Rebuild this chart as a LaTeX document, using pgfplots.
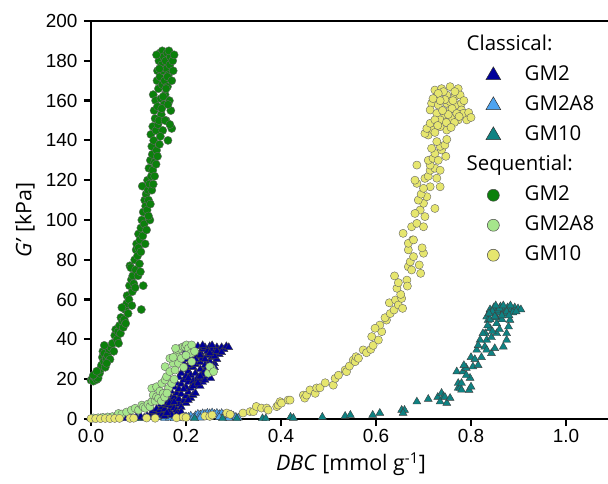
\documentclass[border=0pt]{standalone}
\usepackage{pgfplots}
\pgfplotsset{compat=1.18}
\usepackage{fontspec}
\setmainfont{Liberation Sans}
\newfontfamily\osans{Open Sans}
\definecolor{cnavy}{HTML}{00009A}
\definecolor{clblue}{HTML}{4DA3F0}
\definecolor{cteal}{HTML}{0E8282}
\definecolor{cdgreen}{HTML}{0B800B}
\definecolor{clgreen}{HTML}{A6E68C}
\definecolor{cyellow}{HTML}{E6E66E}
\begin{document}
\begin{tikzpicture}
\useasboundingbox (-91bp,-65bp) rectangle (517bp,419bp);
\begin{axis}[
  at={(0,0)}, anchor=south west,
  scale only axis, width=520bp, height=398bp,
  xmin=0, xmax=1.0947, ymin=0, ymax=200,
  clip=false,
  axis line style={line width=2.4bp},
  tick style={line width=2.2bp, black},
  major tick length=7bp,
  tick align=outside,
  xtick pos=lower, ytick pos=left,
  xtick={0,0.2,0.4,0.6,0.8,1.0},
  ytick={0,20,40,60,80,100,120,140,160,180,200},
  xticklabel style={/pgf/number format/fixed, /pgf/number format/fixed zerofill, /pgf/number format/precision=1},
  yticklabel style={xshift=-3bp},
  tick label style={font=\fontsize{19}{21}\selectfont},
  /pgf/number format/assume math mode=true,
  every axis y label/.style={at={(axis description cs:-0.127,0.5)}, rotate=90, anchor=center},
  every axis x label/.style={at={(axis description cs:0.5,-0.113)}, anchor=center},
  label style={font=\osans\fontsize{21.5}{24}\selectfont},
  xlabel={\textit{DBC} [mmol g\textsuperscript{-1}]},
  ylabel={\textit{G’} [kPa]},
  legend style={at={(axis description cs:0.757,0.9695)}, anchor=north west, draw=none, fill=none, inner sep=0pt, row sep=6bp, column sep=22bp, font=\osans\fontsize{20.5}{23}\selectfont, nodes={text height=15bp, text depth=5bp}},
  legend cell align=left,
  tri/.style={only marks, mark=triangle*, mark size=4.6bp, mark options={fill=#1, draw=black!75, line width=0.4bp}},
  cir/.style={only marks, mark=*, mark size=4.1bp, mark options={fill=#1, draw=black!60, line width=0.4bp}},
  ltri/.style={only marks, mark=triangle*, mark size=8.5bp, mark options={fill=#1, draw=black!80, line width=0.5bp}},
  lcir/.style={only marks, mark=*, mark size=6bp, mark options={fill=#1, draw=black!70, line width=0.5bp}},
]
% legend
\addlegendimage{empty legend}\addlegendentry{\hspace*{-58bp}Classical:}
\addlegendimage{ltri=cnavy}\addlegendentry{GM2}
\addlegendimage{ltri=clblue}\addlegendentry{GM2A8}
\addlegendimage{ltri=cteal}\addlegendentry{GM10}
\addlegendimage{empty legend}\addlegendentry{\hspace*{-58bp}Sequential:}
\addlegendimage{lcir=cdgreen}\addlegendentry{GM2}
\addlegendimage{lcir=clgreen}\addlegendentry{GM2A8}
\addlegendimage{lcir=cyellow}\addlegendentry{GM10}

% Classical GM2A8
\addplot[tri=clblue, forget plot] coordinates {
(0.0,0.3)(0.02,0.3)(0.04,0.5)(0.06,0.5)(0.08,0.6)(0.1,0.7)(0.12,0.8)(0.14,0.9)(0.16,1.0)(0.17,1.2)(0.18,1.0)(0.19,1.3)(0.2,1.2)(0.21,1.6)(0.22,1.8)(0.225,2.5)(0.23,2.2)(0.235,2.8)(0.24,2.6)(0.245,3.0)(0.25,2.8)(0.255,3.2)(0.26,2.5)(0.265,3.0)(0.27,2.4)(0.275,2.9)(0.28,2.2)(0.285,2.6)(0.29,1.8)(0.295,2.2)(0.3,1.5)(0.305,1.0)(0.31,0.6)(0.155,0.4)(0.165,0.6)(0.185,0.5)(0.195,0.8)(0.205,1.0)(0.215,0.7)(0.175,0.3)(0.23,0.6)(0.25,0.8)(0.27,0.9)(0.29,0.5)
};
% Classical GM10
\addplot[tri=cteal, forget plot] coordinates {
(0.0,0.3)(0.093,0.3)(0.103,0.3)(0.218,0.3)(0.277,0.3)(0.307,0.3)(0.361,0.3)(0.368,0.3)(0.42,1)(0.426,0.5)(0.487,1)(0.535,1.5)(0.546,2)(0.593,2)(0.608,3)(0.654,4.5)(0.66,4.5)(0.657,3)(0.686,8.7)(0.71,10)(0.73,11)(0.735,8.7)(0.738,13)(0.742,11.2)(0.745,11)(0.749,8)(0.756,10.5)(0.773,15.6)(0.773,18)(0.777,15.6)(0.78,14.6)(0.78,18)(0.77,23.8)(0.783,23.8)(0.79,25.6)(0.796,14.5)(0.798,20.6)(0.80,16.2)(0.80,31)(0.804,26.3)(0.812,34.7)(0.815,27)(0.819,39.7)(0.822,31)(0.829,36.3)(0.83,43)(0.833,34.7)(0.833,39.7)(0.833,51.4)(0.836,49.7)(0.84,45.6)(0.84,50)(0.843,33)(0.843,41)(0.85,35.5)(0.854,43)(0.854,48)(0.854,51)(0.868,36.3)(0.875,39.7)(0.875,43)(0.879,46.4)(0.882,49.7)(0.86,45)(0.865,50)(0.87,53)(0.848,53)(0.858,53.5)
(0.84,55)(0.848,56)(0.855,54.5)(0.862,56.5)(0.87,55)(0.877,56)(0.885,55)(0.892,56)(0.899,55.5)(0.905,55)(0.845,54)(0.86,55.5)(0.875,54)(0.888,53.5)(0.865,52)(0.85,51.5)(0.88,52)(0.895,54)(0.838,53)(0.852,57)(0.868,57)(0.883,57)(0.825,43)(0.835,47)(0.845,44)(0.815,37)(0.808,30)(0.79,22)(0.785,27)
};
% Classical GM2
\addplot[tri=cnavy, forget plot] coordinates {
(0.075,0.3)(0.085,0.5)(0.095,0.8)(0.105,1.0)(0.112,0.6)(0.118,1.5)(0.125,2.0)(0.13,1.2)(0.135,2.5)(0.14,1.8)(0.145,3.0)(0.15,2.2)(0.155,1.5)
(0.13,4.0)(0.138,5.0)(0.145,4.5)(0.15,6.0)(0.155,5.0)(0.16,7.0)(0.165,4.0)(0.17,6.5)(0.175,5.5)(0.18,4.5)(0.185,7.5)(0.148,7.5)(0.158,8.5)
(0.16,10)(0.165,12)(0.17,9.5)(0.175,11)(0.18,13)(0.185,10)(0.19,12.5)(0.195,9)(0.2,11.5)(0.205,13.5)(0.21,10.5)(0.215,12)(0.168,14)
(0.175,16)(0.18,18)(0.185,15)(0.19,17.5)(0.195,19.5)(0.2,16)(0.205,18.5)(0.21,15.5)(0.215,19)(0.22,17)(0.225,20)(0.23,16.5)(0.235,18.5)
(0.185,21)(0.19,23)(0.195,25)(0.2,21.5)(0.205,24)(0.21,22)(0.215,26)(0.22,23)(0.225,21)(0.23,25)(0.235,22.5)(0.24,24.5)(0.245,21.5)(0.25,23.5)(0.255,25.5)
(0.195,28)(0.2,30)(0.205,27)(0.21,31)(0.215,29)(0.22,27.5)(0.225,31.5)(0.23,28.5)(0.235,30.5)(0.24,27)(0.245,32)(0.25,29)(0.255,31)(0.26,28)(0.265,30)
(0.2,34)(0.205,35.5)(0.21,33)(0.215,36)(0.22,34.5)(0.225,36.5)(0.23,33.5)(0.235,35)(0.24,36)(0.245,34)(0.25,36.5)(0.255,35)(0.26,33.5)(0.265,36)(0.27,34.5)(0.275,36)(0.28,35)(0.285,36.5)(0.29,36)(0.27,32.5)(0.26,31.5)
(0.165,8)(0.175,8.5)(0.19,6)(0.2,8)(0.205,9.5)(0.18,2.5)(0.17,2)(0.16,3)(0.19,3.5)(0.195,15)(0.205,20.5)(0.215,16.5)(0.225,18)(0.24,19.5)(0.22,13)(0.23,21.5)(0.21,28.5)(0.22,30)(0.23,32)(0.24,30)(0.25,33)(0.265,34)(0.275,33.5)(0.255,37)(0.235,37)(0.215,34)(0.2,26)(0.245,26)(0.26,26)(0.252,20.5)
};
% Sequential GM2
\addplot[cir=cdgreen, forget plot] coordinates {
(0.000,19.5)(0.003,20.5)(0.005,19)(0.008,21)(0.010,22.5)(0.012,19.8)(0.015,20.5)(0.018,23)(0.020,25)(0.022,27)(0.024,31)(0.025,34)(0.027,29)(0.028,33)(0.030,26)(0.032,30)(0.035,32)(0.038,35)(0.040,30)(0.042,36)(0.045,38)(0.048,34)(0.050,42)(0.052,45)(0.055,40)(0.057,44)(0.060,47)(0.062,43)(0.063,51)(0.066,49)(0.068,46)(0.070,50)(0.072,55)(0.075,58)(0.076,62)(0.078,53)(0.080,60)(0.081,67)(0.082,77)(0.084,76)(0.085,70)(0.087,64)(0.088,72)(0.090,68)(0.092,80)(0.094,75)(0.095,85)(0.096,88)(0.098,82)(0.100,93)(0.100,86)(0.102,78)(0.103,90)(0.105,96)(0.105,84)(0.106,55)(0.107,100)(0.108,117)(0.110,67)(0.110,104)(0.112,98)(0.113,110)(0.115,107)(0.116,113)(0.118,105)(0.119,120)(0.120,115)(0.121,110)(0.122,126)(0.123,118)(0.124,100)(0.125,130)(0.126,143)(0.127,122)(0.128,137)(0.129,133)(0.130,147)(0.130,125)(0.131,163)(0.132,140)(0.133,155)(0.134,129)(0.135,151)(0.136,160)(0.137,145)(0.138,135)(0.139,170)(0.140,157)(0.140,175)(0.141,148)(0.142,166)(0.143,180)(0.144,138)(0.145,172)(0.146,184)(0.147,161)(0.148,153)(0.149,178)(0.150,168)(0.150,185)(0.151,145)(0.152,175)(0.153,182)(0.154,158)(0.155,170)(0.156,163)(0.157,180)(0.158,150)(0.159,176)(0.160,184)(0.161,167)(0.162,140)(0.163,173)(0.165,160)(0.166,178)(0.167,182)(0.168,155)(0.170,146)(0.172,180)(0.173,175)
(0.005,22)(0.012,24)(0.028,37)(0.033,28)(0.058,38)(0.065,56)(0.073,48)(0.086,57)(0.093,66)(0.099,72)(0.104,74)(0.109,92)(0.114,88)(0.117,95)(0.121,102)(0.125,108)(0.128,115)(0.131,118)(0.134,122)(0.137,128)(0.14,132)(0.143,150)(0.146,142)(0.149,156)(0.152,162)(0.156,150)(0.158,166)(0.161,172)(0.164,185)(0.17,170)(0.175,183)(0.144,176)(0.138,183)(0.162,158)(0.166,148)
};
% Sequential GM2A8
\addplot[cir=clgreen, forget plot] coordinates {
(0.005,0.5)(0.015,0.6)(0.025,0.8)(0.035,1.0)(0.045,1.2)(0.055,1.8)(0.058,2.8)(0.065,2.5)(0.075,3.5)(0.085,4.5)(0.093,5.4)(0.1,4.5)(0.107,7)(0.11,6)(0.114,5.4)(0.12,7.5)(0.124,6.2)(0.128,8.7)(0.128,15.4)(0.131,12)(0.135,9)(0.138,11.2)(0.142,10.4)(0.138,16.2)(0.145,14)(0.149,17.9)(0.152,12.9)(0.156,19.6)(0.156,26.3)(0.159,21.3)(0.163,15.4)(0.166,23.8)(0.17,17.9)(0.173,28)(0.175,20)(0.177,24.6)(0.18,32.2)(0.184,28)(0.184,34.7)(0.187,35.5)(0.19,30.5)(0.194,36.3)(0.198,36.3)(0.201,37.2)(0.205,35.5)(0.21,33)(0.212,28.8)(0.212,37.2)(0.218,34)(0.166,30.5)(0.173,31)(0.178,35.5)(0.195,26)(0.2,32)(0.247,23)(0.254,25.5)(0.25,26.3)(0.258,23.8)(0.148,9)(0.155,11)(0.16,13)
};
% Sequential GM10
\addplot[cir=cyellow, forget plot] coordinates {
(0.0,0.2)(0.01,0.2)(0.02,0.2)(0.03,0.3)(0.04,0.2)(0.05,0.3)(0.06,0.3)(0.082,0.3)(0.09,0.4)(0.117,0.5)(0.135,0.4)(0.18,0.6)(0.194,1)(0.2,0.8)(0.24,1.5)(0.25,1.3)(0.255,2.0)(0.286,3)(0.293,2.3)(0.32,3)(0.335,3.7)(0.342,3.7)(0.348,6.3)(0.359,5.5)(0.37,5.5)(0.373,4.5)(0.391,6.2)(0.394,7)(0.398,8.7)(0.401,8)(0.415,9.5)(0.419,9.5)(0.447,12)(0.45,10.5)(0.454,12)(0.461,14.6)(0.472,12.9)(0.475,15.6)(0.482,15.7)(0.493,18.2)(0.51,17)(0.514,20.4)(0.521,22)(0.535,24.6)(0.538,23.8)(0.544,26.6)(0.552,29.6)(0.556,28.8)(0.558,31.3)(0.563,30.5)(0.573,34.7)(0.58,33.3)(0.589,35)(0.594,37)(0.605,39.7)(0.591,41.4)(0.612,43.9)(0.608,47.2)(0.598,45.6)(0.622,49.7)(0.619,50.9)(0.63,53)(0.628,58.4)(0.638,54.8)(0.641,59.8)(0.647,57.3)(0.654,60.6)(0.652,62.6)(0.656,55.6)(0.644,65.7)(0.639,71.9)(0.647,68.5)(0.665,69.8)(0.666,66.8)(0.668,76.5)(0.672,79)(0.679,81.6)(0.675,74.9)(0.691,77.4)(0.694,73.2)(0.7,83.3)(0.697,86)(0.677,90)(0.668,85)(0.657,93.3)(0.668,88.3)(0.679,90)(0.675,96.6)(0.686,98.3)(0.7,96.6)(0.703,101.7)(0.693,105)(0.682,103.3)(0.724,105.8)(0.7,108.4)(0.689,110)(0.707,111.7)(0.695,113)(0.714,116.7)(0.7,115.9)(0.686,118.4)(0.682,120)(0.703,120.9)(0.71,122)(0.735,116.7)(0.728,121)(0.714,125)(0.724,126)(0.735,125)(0.714,127.6)(0.71,130)(0.72,131)(0.731,130)(0.747,132)(0.724,133.5)(0.738,135.2)(0.717,136)(0.735,137)(0.728,139.4)(0.745,137.7)(0.686,127.6)(0.71,142.7)(0.703,143.5)(0.72,145.2)(0.724,144)(0.707,146)(0.714,148.6)(0.749,145.2)(0.735,146.9)(0.749,140.5)
(0.724,165.3)(0.738,166)(0.756,167)(0.773,166)(0.728,162)(0.749,162.8)(0.766,162)(0.777,162.8)(0.717,158.6)(0.731,157.8)(0.749,158.6)(0.77,157.8)(0.78,158.6)(0.714,155.3)(0.728,153.6)(0.745,152.8)(0.759,151.1)(0.773,150.3)(0.791,150.3)(0.78,155.3)(0.756,155.3)(0.735,150.3)(0.724,150.3)(0.756,159.5)(0.766,164.5)(0.742,164.5)(0.731,163.6)(0.784,153.6)(0.745,160.5)(0.76,156)(0.752,153)(0.77,153.5)(0.74,155)(0.762,160)(0.735,160)(0.72,161)(0.785,160)(0.775,152)(0.795,154)(0.8,151.5)(0.765,149)(0.748,149)(0.73,147.5)(0.758,146.5)
};
\end{axis}
\end{tikzpicture}
\end{document}
